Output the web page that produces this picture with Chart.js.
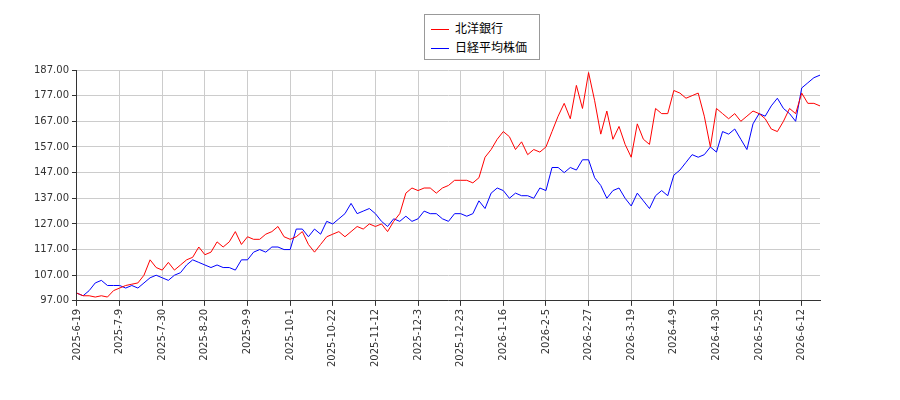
<!DOCTYPE html>
<html>
<head>
<meta charset="utf-8">
<script src="https://cdn.jsdelivr.net/npm/chart.js@4"></script>
<style>
  body { margin: 0; background: #fff; }
  #wrap { position: relative; width: 900px; height: 400px; }
  #legend { position: absolute; left: 424px; top: 14px; width: 116px; border: 1px solid #999; background: #fff;
    font: 12px 'Noto Sans CJK JP', sans-serif; padding: 3px 0 3px 6px; box-sizing: border-box; }
  #legend div { height: 19px; line-height: 19px; }
  #legend span { display: inline-block; width: 18px; height: 0; border-top: 1px solid; vertical-align: middle; margin-right: 6px; }
</style>
</head>
<body>
<div id="wrap">
  <canvas id="c" width="900" height="400"></canvas>
  <div id="legend">
    <div><span style="border-color:#ff0000"></span>北洋銀行</div>
    <div><span style="border-color:#0000ff"></span>日経平均株価</div>
  </div>
</div>
<script>
const tickLabels = ['2025-6-19','2025-7-9','2025-7-30','2025-8-20','2025-9-9','2025-10-1','2025-10-22','2025-11-12','2025-12-3','2025-12-23','2026-1-16','2026-2-5','2026-2-27','2026-3-19','2026-4-9','2026-4-30','2026-5-25','2026-6-12'];
const pointsPerTick = 7;

const bankValues = [
  100,99,99,98.5,99,98.5,101,
  102,103,103.5,104,107,113,110,
  109,112,109,111,113,114,118,
  115,116,120,118,120,124,119,
  122,121,121,123,124,126,122,
  121,122,124,119,116,119,122,
  123,124,122,124,126,125,127,
  126,127,124,128,131,139,141,
  140,141,141,139,141,142,144,
  144,144,143,145,153,156,160,
  163,161,156,159,154,156,155,
  157,163,169,174,168,181,172,
  186,175,162,171,160,165,158,
  153,166,160,158,172,170,170,
  179,178,176,177,178,169,157,
  172,170,168,170,167,169,171,
  170,168,164,163,167,172,170,
  178,174,174,173
];
const nikkeiValues = [
  100,99,101,104,105,103,103,
  103,102,103,102,104,106,107,
  106,105,107,108,111,113,112,
  111,110,111,110,110,109,113,
  113,116,117,116,118,118,117,
  117,125,125,122,125,123,128,
  127,129,131,135,131,132,133,
  131,128,126,129,128,130,128,
  129,132,131,131,129,128,131,
  131,130,131,136,133,139,141,
  140,137,139,138,138,137,141,
  140,149,149,147,149,148,152,
  152,145,142,137,140,141,137,
  134,139,136,133,138,140,138,
  146,148,151,154,153,154,157,
  155,163,162,164,160,156,166,
  170,169,173,176,172,170,167,
  180,182,184,185
];

const labels = bankValues.map((v, i) => i % pointsPerTick === 0 ? tickLabels[i / pointsPerTick] : '');

new Chart(document.getElementById('c'), {
  type: 'line',
  data: {
    labels: labels,
    datasets: [
      { label: '北洋銀行', data: bankValues, borderColor: '#ff0000', borderWidth: 1, pointRadius: 0, tension: 0 },
      { label: '日経平均株価', data: nikkeiValues, borderColor: '#0000ff', borderWidth: 1, pointRadius: 0, tension: 0 }
    ]
  },
  options: {
    responsive: false,
    animation: false,
    layout: { padding: { top: 70, right: 80, left: 31, bottom: 30 } },
    plugins: { legend: { display: false }, tooltip: { enabled: false } },
    scales: {
      x: {
        offset: false,
        grid: { color: ctx => labels[ctx.index] ? '#cccccc' : 'transparent', tickColor: ctx => labels[ctx.index] ? '#333' : 'transparent', tickLength: 5 },
        border: { color: '#333' },
        ticks: { autoSkip: false, maxRotation: 90, minRotation: 90, color: '#333', font: { family: 'DejaVu Sans', size: 10 },
          callback: (v, i) => labels[i] }
      },
      y: {
        min: 97, max: 187,
        grid: { color: '#cccccc', tickLength: 5, tickColor: '#333' },
        border: { color: '#333' },
        ticks: { stepSize: 10, color: '#333', font: { family: 'DejaVu Sans', size: 10 }, callback: v => v.toFixed(2) }
      }
    }
  }
});
</script>
</body>
</html>
